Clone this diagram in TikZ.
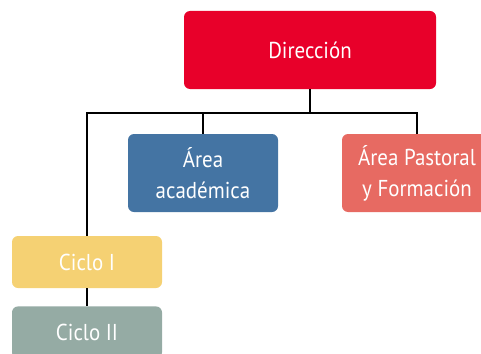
\documentclass[tikz,border=0pt]{standalone}
\usepackage{fontspec}
\setmainfont[FakeStretch=0.91]{PT Sans}
\usetikzlibrary{positioning}

\definecolor{rojo}{HTML}{E8002A}
\definecolor{azul}{HTML}{4474A3}
\definecolor{salmon}{HTML}{E76A62}
\definecolor{amarillo}{HTML}{F5D173}
\definecolor{gris}{HTML}{95ABA4}

\tikzset{
    caja/.style={rounded corners=6pt, text=white, align=center,
        font=\fontsize{23}{31}\selectfont, inner sep=0pt},
    conector/.style={draw=black, line width=1.2pt}
}

\begin{document}
\begin{tikzpicture}[x=1pt,y=-1pt]
\useasboundingbox (0,0) rectangle (481,353);
\clip (0,0) rectangle (481,353);
\node[caja, fill=rojo, minimum width=252pt, minimum height=78pt] (dir) at (310,50) {Dirección};
\node[caja, fill=azul, minimum width=150pt, minimum height=78pt] (acad) at (203,173) {Área\\académica};
\node[caja, fill=salmon, minimum width=150pt, minimum height=78pt] (past) at (417,173) {Área Pastoral\\y Formación};
\node[caja, fill=amarillo, minimum width=150pt, minimum height=52pt] (ciclo1) at (87,262) {Ciclo I};
\node[caja, fill=gris, minimum width=150pt, minimum height=52pt, below=18pt of ciclo1] (ciclo2) {Ciclo II};
\coordinate (bus) at (310,113);
\draw[conector] (dir.south) -- (bus);
\draw[conector] (ciclo1.north) |- (bus) -| (past.north);
\draw[conector] (acad.north) -- (acad.north |- bus);
\draw[conector] (ciclo1.south) -- (ciclo2.north);
\end{tikzpicture}
\end{document}
